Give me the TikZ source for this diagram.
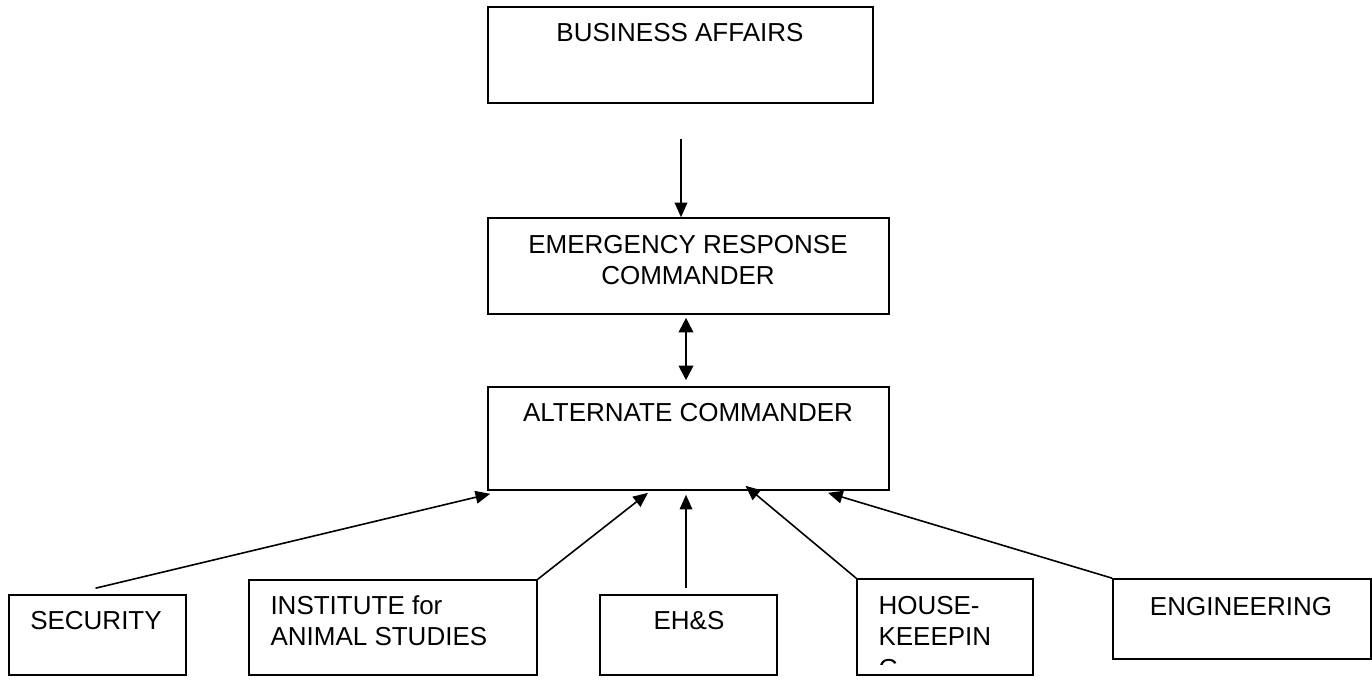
\documentclass[tikz,border=0pt]{standalone}
\usepackage{fontspec}
\setmainfont{Liberation Sans}
\usetikzlibrary{arrows.meta,calc,fit,positioning}

\tikzset{every picture/.style={line width=0.75pt}}
\tikzset{
  unitbox/.style={draw, line width=1.2pt, inner sep=0pt},
  unittext/.style={inner sep=0.75pt, font=\fontsize{19.5}{23.5}\selectfont},
  link/.style={-{Triangle[length=11pt,width=9.5pt]}, line width=1.2pt},
  twolink/.style={{Triangle[length=11pt,width=11pt]}-{Triangle[length=11pt,width=11pt]}, line width=1.5pt},
}

\begin{document}
\begin{tikzpicture}[x=0.75pt,y=0.75pt,yscale=-1,xscale=1]
\useasboundingbox (0,0) rectangle (1372,679);

%Shape: Rectangles
\node [unitbox, fit={(488,7) (873,103)}] (affairs) {};
\node [unitbox, fit={(488,218) (889,314)}] (erc) {};
\node [unitbox, fit={(488,387) (889,490)}] (alt) {};
\node [unitbox, fit={(9,595) (186,675)}] (security) {};
\node [unitbox, fit={(249,580) (537,675)}] (institute) {};
\node [unitbox, fit={(600,595) (777,675)}] (ehs) {};
\node [unitbox, fit={(857,579) (1033,675)}] (housekeeping) {};
\node [unitbox, fit={(1113,579) (1371,659)}] (engineering) {};

% Text Node
\node [unittext] (affairstext) at (680,32.5) {BUSINESS AFFAIRS};
% Text Node
\node [unittext, align=center] (erctext) at (688,260) {EMERGENCY RESPONSE\\COMMANDER};
% Text Node
\node [unittext] (alttext) at (688,412.5) {ALTERNATE COMMANDER};
% Text Node
\node [unittext] (securitytext) at (96,621) {SECURITY};
% Text Node
\node [unittext, align=left, anchor=west] (institutetext) at (269,621) {INSTITUTE for\\ANIMAL STUDIES};
% Text Node
\node [unittext] (ehstext) at (689,621) {EH\&S};
% Text Node
\begin{scope}
\clip (857,579) rectangle (1033,664);
\node [unittext, align=left, anchor=north west] (housekeepingtext) at (877,595) {HOUSE-\\KEEEPIN\\G};
\end{scope}
% Text Node
\node [unittext] (engineeringtext) at (1241,606.5) {ENGINEERING};

%Straight Lines
\draw [link] ($(affairs.south)+(0.5,35)$) -- ($(erc.north)+(-7.5,0)$);
\draw [twolink] ($(erc.south)+(-2.5,3)$) -- ($(alt.north)+(-2.5,-6)$);
\draw [link] ($(security.north)+(-2,-6)$) -- ($(alt.south west)+(3,3)$);
\draw [link] (institute.north east) -- ($(alt.south)+(-40.5,2)$);
\draw [link] ($(ehs.north)+(-2.5,-6)$) -- ($(alt.south)+(-2.5,4)$);
\draw [link] (housekeeping.north west) -- ($(alt.south)+(57,-5)$);
\draw [link] (engineering.north west) -- ($(alt.south)+(139.5,2)$);

\end{tikzpicture}
\end{document}
